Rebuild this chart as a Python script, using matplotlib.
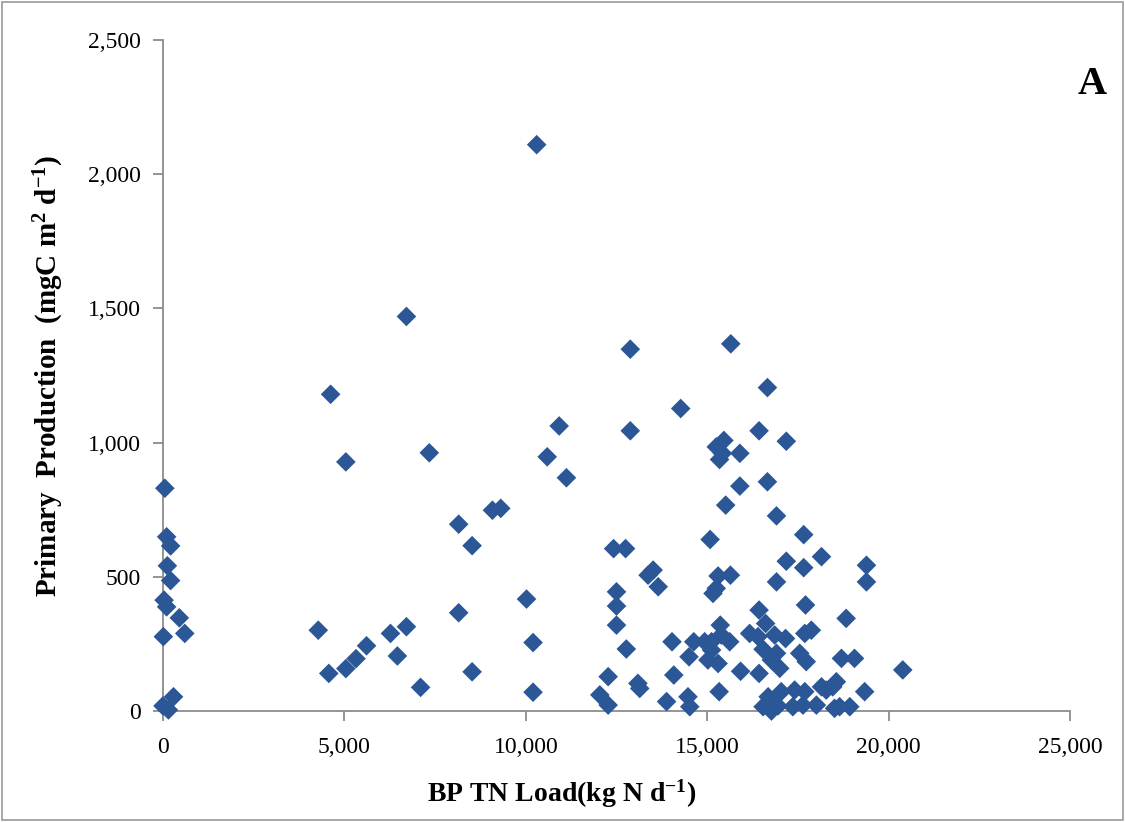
import matplotlib.pyplot as plt
from matplotlib.patches import Rectangle

# BP TN load (kg N d-1) and primary production (mgC m2 d-1)
tn_load = [
    50, 100, 210, 120, 210, 30, 100, 450, 600, 10, 290, 0, 150,
    10300, 6710, 4620, 5040, 7340, 10590, 8150, 8520, 9080, 9310,
    4280, 4570, 5040, 5320, 5610, 6270, 6710, 6460, 7100, 8150, 8520,
    10020, 10200, 10200,
    12880, 15650, 14270, 10920, 12880, 11120,
    15250, 15460, 15420, 15340, 15900, 16430, 15900, 15510, 15080,
    12420, 12750, 13510, 13370, 13650,
    15300, 15640, 15160, 15250,
    12500, 12500, 12500, 12770, 14030,
    14630, 14500, 14930, 15120, 15120, 15360, 15390, 15620, 15020, 15300,
    16170, 15920, 14080, 12270, 13090, 13140, 12040, 12270, 13880, 14470, 14520, 15330,
    16660, 17180, 16660, 16910, 17660, 17180, 17660, 18150, 16910, 19390, 19390,
    16430, 16610, 17710, 18830,
    16400, 16860, 17160, 17690, 17870,
    16540, 16910, 16770, 17000, 17550, 17730, 18700, 19060,
    16430, 19340, 20390,
    16680, 17040, 17410, 17690, 18150, 18560, 18280, 18460,
    16540, 16770, 16950, 17360, 17640, 18010, 18510, 18650, 18930,
]
primary_prod = [
    830, 649, 615, 541, 486, 413, 388, 347, 289, 277, 53, 19, 4,
    2110, 1470, 1180, 928, 962, 947, 696, 616, 748, 755,
    301, 140, 158, 195, 243, 289, 314, 205, 88, 366, 146,
    417, 255, 70,
    1348, 1368, 1127, 1062, 1044, 869,
    984, 1008, 960, 937, 960, 1044, 838, 767, 639,
    605, 605, 525, 506, 463,
    503, 506, 438, 457,
    444, 391, 320, 231, 258,
    258, 202, 258, 258, 227, 320, 283, 258, 190, 177,
    289, 148, 134, 128, 103, 84, 60, 22, 35, 53, 16, 72,
    1205, 1005, 854, 727, 657, 558, 534, 575, 481, 543, 481,
    376, 326, 395, 345,
    277, 283, 270, 289, 301,
    230, 215, 190, 159, 215, 184, 196, 196,
    140, 72, 153,
    53, 72, 78, 72, 90, 109, 78, 90,
    16, 0, 19, 16, 22, 22, 10, 16, 16,
]
x_ticks = [0, 5000, 10000, 15000, 20000, 25000]
y_ticks = [0, 500, 1000, 1500, 2000, 2500]

plt.rcParams['font.family'] = ['Liberation Serif', 'DejaVu Serif']
plt.rcParams['mathtext.default'] = 'regular'

fig = plt.figure(figsize=(11.25, 8.22), dpi=100)
ax = fig.add_axes([163 / 1125, 1 - 711 / 822, (1070 - 163) / 1125, (711 - 40) / 822])

ax.scatter(tn_load, primary_prod, marker='D', s=100, color='#2B5796',
           edgecolors='none', clip_on=False, zorder=3)

ax.set_xlim(0, 25000)
ax.set_ylim(0, 2500)
ax.set_xticks(x_ticks)
ax.set_yticks(y_ticks)
ax.set_xticklabels([f'{v:,}' for v in x_ticks])
ax.set_yticklabels([f'{v:,}' for v in y_ticks])

for side in ['top', 'right']:
    ax.spines[side].set_visible(False)
for side in ['left', 'bottom']:
    ax.spines[side].set_color('#8c8c8c')
    ax.spines[side].set_linewidth(1.3)
ax.tick_params(axis='both', direction='out', length=7, width=1.3,
               color='#8c8c8c', labelsize=17)
ax.tick_params(axis='x', pad=12)
ax.tick_params(axis='y', pad=9)

ax.set_xlabel('BP TN Load(kg N d$^{-1}$)', fontsize=20, fontweight='bold')
ax.xaxis.set_label_coords(0.44, -0.099)
ax.set_ylabel('Primary  Production  (mgC m$^{2}$ d$^{-1}$)', fontsize=21,
              fontweight='bold')
ax.yaxis.set_label_coords(-0.107, 0.5)

fig.text(1092 / 1125, 1 - 85 / 822, 'A', fontsize=29, fontweight='bold',
         ha='center', va='center')

# thin frame round the whole picture
fig.patches.append(Rectangle((0.002, 0.002), 0.996, 0.996, transform=fig.transFigure,
                             fill=False, edgecolor='#9a9a9a', linewidth=1.2))

fig.savefig('out.png', dpi=100)
